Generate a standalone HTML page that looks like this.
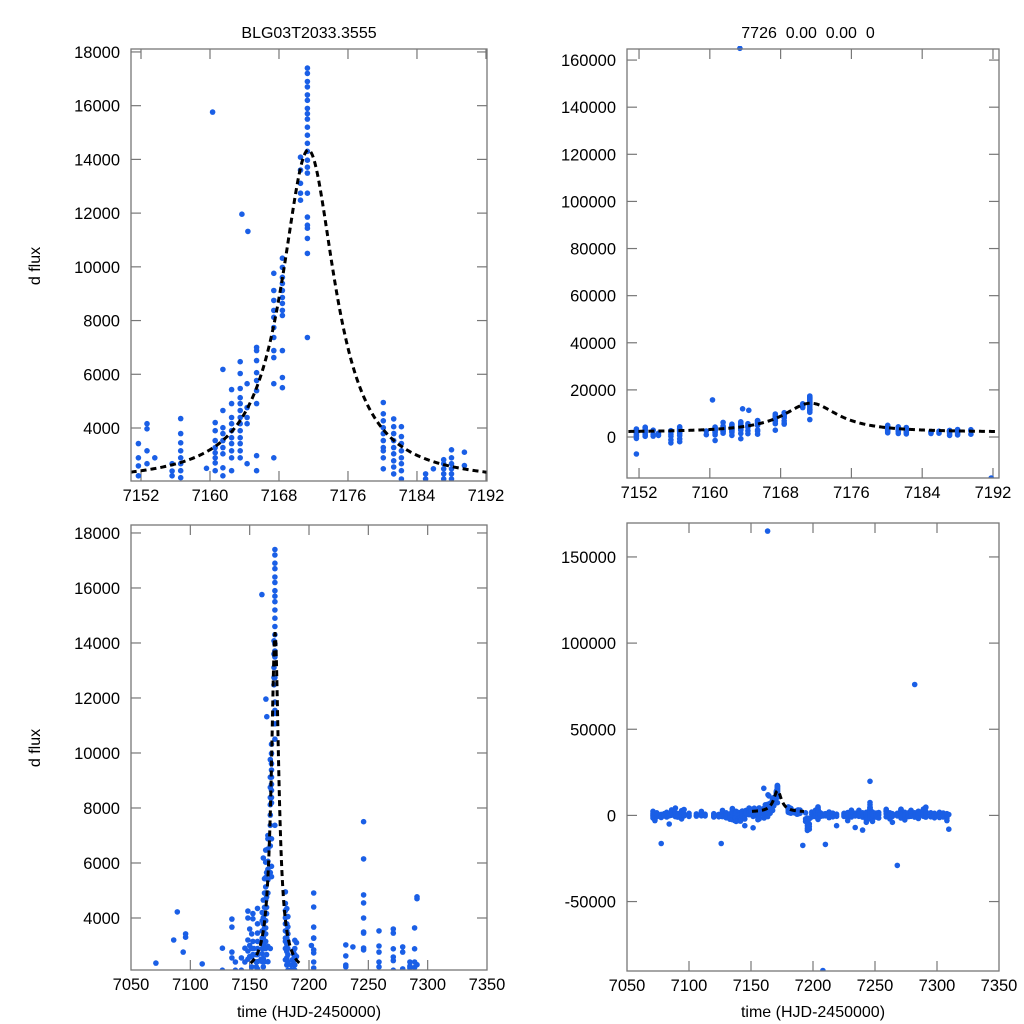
<!DOCTYPE html>
<html><head><meta charset="utf-8">
<style>
html,body{margin:0;padding:0;background:#fff;width:1024px;height:1024px;overflow:hidden;}
svg{display:block;}
text{font-family:"Liberation Sans",Arial,sans-serif;fill:#000;}
</style></head>
<body>
<svg id="fig" width="1024" height="1024" viewBox="0 0 1024 1024" xmlns="http://www.w3.org/2000/svg">
<rect width="1024" height="1024" fill="#fff"/>
<text x="309" y="38" font-size="16" text-anchor="middle">BLG03T2033.3555</text>
<text x="808" y="38" font-size="16" text-anchor="middle" xml:space="preserve">7726  0.00  0.00  0</text>
<text x="0" y="0" font-size="16" text-anchor="middle" transform="translate(40,266) rotate(-90)">d flux</text>
<text x="0" y="0" font-size="16" text-anchor="middle" transform="translate(40,748) rotate(-90)">d flux</text>
<text x="309" y="1017" font-size="16" text-anchor="middle">time (HJD-2450000)</text>
<text x="813" y="1017" font-size="16" text-anchor="middle">time (HJD-2450000)</text>
</svg>
<script>
// observation nights (HJD-2450000) and fluxes measured on each night
const nightTimes = [7071,7072.5,7074,7077.6,7080,7082,7084,7086,7089,7091,7094,7096,7100,7106,7110,7113,7120,7124,7126,7127,7130,7133,7135,7137,7138,7140,7141.5,7143,7145,7146,7148.5,7150,
7151.7,7152.7,7153.6,7154.2,7155.6,7156.6,7159.6,7160.6,7161.5,7160.3,7162.5,7163.5,7163.7,7164.4,7164.3,7163.4,7165.4,7167.4,7168.4,7170.5,7171.3,7180.1,7181.3,7182.2,7185.0,7185.9,7187.1,7188.0,7189.5,7191.8,
7194,7195.5,7197,7199,7202,7204,7206,7208,7210,7213,7216,7219,7225,7228,7231,7234,7237,7240,7243,7246,7248,7251,7253,7259,7262,7264,7268,7271,7274,7277,7279,7282,7285,7289,7291,7295,7298,7302,7305,7308,7309.5];
const nightFluxes = [
[1200,300,-400,-1500,2360],[800,-200,-3000],[1500,500,-800],[600,-16300,-1200],[1000,200,-300],[1800,400,-600,-900],[900,-200,-5000],[3200,1000,100],[4220,1500,400,-700],[1100,0,-1000],[2760,600,-400,-2000],[3300,3420,800,-300],[1200,200,-600],[900,-100,-400],[2330,500,-200],[700,-300],[1000,100,-500,-900],[600,-800],[-16300,400],[2900,2100,1200,-300,-700],[1500,300,-1400,-400],[900,-1000,-2200,-1800],[3960,3670,2760,2550,1000,-500,-2500],[1400,-1500,-3000,-2800,-900],[2400,2100,600,-1200,-3500],[1700,-800,-2200,-2000,-3000,500],[1200,-1000,-2600,-3300],[2550,2100,800,-500],[1500,-400,-2100,-6000,300],[2900,2400,1200],[4250,4000,3200,2800,2500,1500,400],[3600,3000,2600,1000],
[3420,2890,2590,2220,1500,800,200,-600,-7200],[4160,3970,3150,2670,1800,900,300],[2890,1200,400],[1600,700],[2670,2400,2220,1200,300,-1200,-2500],[4350,3790,3450,3150,2890,2670,2410,2150,1500,600,-800,-2000],[2500,1000],[4200,3900,3530,3270,3080,2890,2700,2410,1800,900,-1500],[6180,4650,4010,3790,3530,3270,3040,2520,2220,1600],[15760],[5430,4910,4390,4160,3900,3640,3420,3150,2890,2410,1900,700],[6470,6030,5470,5130,4910,4650,4390,4160,3900,3640,3420,3150,2890,1500,-700],[11960],[11320],[5650,4760,4390,4160,2670,1400],[165000],[7000,6880,6510,6060,5770,5390,4910,2970,2410,1200],[9760,9120,8750,8380,8120,7740,7370,6880,6620,5650,2890],[10320,9980,9610,9380,9120,8860,8640,8380,8190,6880,5880,5500],[14080,13600,13110,12740,12480],[17400,17200,16900,16700,16400,16200,15900,15700,15500,15200,14900,14600,14300,13970,13710,13490,12740,11850,11550,11440,11060,10500,7370],[4950,4530,4270,4010,3790,3530,3270,3150,2890,2480,1800],[4340,4050,3790,3530,3270,3040,2780,2550,2290,1500],[4050,3680,3420,3150,2890,2670,2410,2100,1300],[2290,2100,1500],[2480,1600],[2820,2670,2480,2290,2100,1400,700],[3190,2890,2670,2480,2290,2100,1500,900],[3100,2600,1200],[-17400],
[1500,-2000,-3500],[-3000,-4500,-6000,-7500,-8700,-1500],[-2000,-5000,-8000,-6500],[2000,500,-900],[3000,1500,200,-700],[4910,4400,3670,3270,3270,2840,2730,2400,2180,1200,-500,-2300],[1500,400,-600],[-90000,800,-300],[-16800,1000,-200],[2000,700,-400,-1300],[1300,200,-800],[700,-500,-6000],[1200,300,-600],[1600,0,-1200,-3000],[3020,2620,2290,2220,600,-900],[1300,-300,-7000],[2950,800,-500],[1500,-1000,-8500],[1800,500,-1100,-2500,-4000],[19800,7500,6150,4840,4550,4000,3490,3450,2910,2840,1300,-600,-2000],[2000,600,-1800,-3500],[1400,200,-1000],[1700,300,-1500],[3530,2980,2760,2400,2220,1000,-800],[1500,0,-2000],[1000,-600,-4000],[-29000,1200,-300],[3600,3450,2880,2580,2450,2100,900,-800,-1500],[1800,400,-1200,-2600],[1500,-200,-700],[2950,2760,2150,800,-500],[76000,1500,200,-1000],[2400,2250,2180,900,-300,-1800],[3640,2880,2400,2200,1000,-500],[4770,4700,2300,600,-1000],[1500,300,-800],[1200,0,-1400],[1800,500,-500,-1200],[1400,100,-900],[1000,-600,-1500,-3000],[-8000,500]];
// fitted model parameters: [t0, width, amplitude, baseline], and fit time range
const fitParams = [7171.4, 3.8, 12400, 1950];
const fitRange = [7150.8, 7192.7];
// axis ticks per panel
const ticksXZoom = [7152,7160,7168,7176,7184,7192];
const ticksXFull = [7050,7100,7150,7200,7250,7300,7350];
const ticksYZoom = [4000,6000,8000,10000,12000,14000,16000,18000];
const ticksYTopRight = [0,20000,40000,60000,80000,100000,120000,140000,160000];
const ticksYBottomRight = [-50000,0,50000,100000,150000];

const NS='http://www.w3.org/2000/svg';
const svg=document.getElementById('fig');
function mk(tag,attrs,parent){const e=document.createElementNS(NS,tag);for(const k in attrs)e.setAttribute(k,attrs[k]);(parent||svg).appendChild(e);return e;}
function model(t){const d=(t-fitParams[0])/fitParams[1];return fitParams[3]+fitParams[2]/(1+d*d);}

const panels=[
 {id:'top-left',box:[131,49,487,481],xd:[7150.84,7192.12],yd:[2027,18110],xt:ticksXZoom,yt:ticksYZoom},
 {id:'top-right',box:[627,49,999,478],xd:[7150.64,7192.68],yd:[-17400,164700],xt:ticksXZoom,yt:ticksYTopRight},
 {id:'bottom-left',box:[131,525,487,970],xd:[7050,7350],yd:[2109,18290],xt:ticksXFull,yt:ticksYZoom},
 {id:'bottom-right',box:[627,523,999,971],xd:[7050,7350],yd:[-90300,169700],xt:ticksXFull,yt:ticksYBottomRight}
];
panels.forEach((p,pi)=>{
 const [x0,y0,x1,y1]=p.box;
 const sx=t=>x0+(t-p.xd[0])/(p.xd[1]-p.xd[0])*(x1-x0);
 const sy=v=>y1-(v-p.yd[0])/(p.yd[1]-p.yd[0])*(y1-y0);
 const g=mk('g',{});
 
 
 const cp=mk('clipPath',{id:'clip'+pi},g);
 mk('rect',{x:x0,y:y0-3,width:x1-x0,height:y1-y0+3},cp);
 p.xt.forEach(t=>{const x=sx(t);
  if(x>x0+1&&x<x1-1){mk('line',{x1:x,y1:y1,x2:x,y2:y1-10,stroke:'#777','stroke-width':1.2},g);mk('line',{x1:x,y1:y0,x2:x,y2:y0+10,stroke:'#777','stroke-width':1.2},g);}
  const tx=mk('text',{x:x,y:y1+20,'font-size':16.5,'text-anchor':'middle'},g);tx.textContent=t;
  
  
 });
 p.yt.forEach(v=>{const y=sy(v);
  mk('line',{x1:x0,y1:y,x2:x0+10,y2:y,stroke:'#777','stroke-width':1.2},g);mk('line',{x1:x1,y1:y,x2:x1-10,y2:y,stroke:'#777','stroke-width':1.2},g);
  const tx=mk('text',{x:x0-11,y:y+6,'font-size':16.5,'text-anchor':'end'},g);tx.textContent=v;
  
  
 });
 const dg=mk('g',{'clip-path':'url(#clip'+pi+')'},g);
 
 
 nightTimes.forEach((t,i)=>{
  if(t<p.xd[0]-0.3||t>p.xd[1]+0.3)return;
  nightFluxes[i].forEach(v=>{
   const c=mk('circle',{cx:sx(t).toFixed(1),cy:sy(v).toFixed(1),r:2.8,fill:'#1a5fe6'},dg);
   
   
  });
 });
 let d='';const n=300;
 for(let k=0;k<=n;k++){const t=fitRange[0]+(fitRange[1]-fitRange[0])*k/n;d+=(k?'L':'M')+sx(t).toFixed(2)+','+sy(model(t)).toFixed(2);}
 const path=mk('path',{d:d,fill:'none',stroke:'#000','stroke-width':3,'stroke-dasharray':'6 4'},dg);
 
 
 const fr=mk('rect',{x:x0,y:y0,width:x1-x0,height:y1-y0,fill:'none',stroke:'#777','stroke-width':1.3},g);
 
 
});
</script>
</body></html>
